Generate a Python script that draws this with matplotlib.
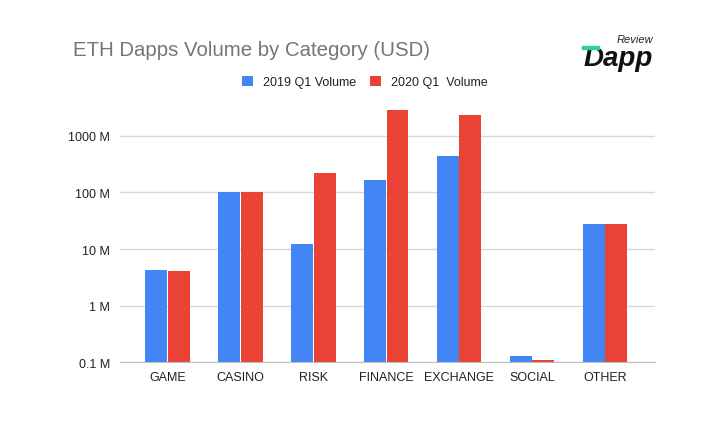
import matplotlib
matplotlib.use("Agg")
import matplotlib.pyplot as plt
import matplotlib.patches as patches
import numpy as np

plt.rcParams['font.family'] = ['Liberation Sans', 'DejaVu Sans']

# data (millions of USD)
categories = ['GAME', 'CASINO', 'RISK', 'FINANCE', 'EXCHANGE', 'SOCIAL', 'OTHER']
vol_2019 = [4.3, 102, 12.3, 167, 442, 0.128, 27.8]
vol_2020 = [4.05, 101, 218, 2870, 2340, 0.11, 27.8]
series_names = ['2019 Q1 Volume', '2020 Q1  Volume']
y_ticks = [0.1, 1, 10, 100, 1000]
y_tick_labels = ['0.1 M', '1 M', '10 M', '100 M', '1000 M']

blue = '#4285F4'
red = '#EA4335'

fig = plt.figure(figsize=(7.1, 4.27), dpi=100)
ax = fig.add_axes([120 / 710, 1 - 363.3 / 427, 535 / 710, 266 / 427])

x = np.arange(len(categories))
w = 0.30
ax.bar(x - 0.155, vol_2019, w, color=blue, label=series_names[0], zorder=3)
ax.bar(x + 0.155, vol_2020, w, color=red, label=series_names[1], zorder=3)

ax.set_yscale('log')
ax.set_ylim(0.1, 5000)
ax.set_xlim(-0.652, 6.687)
ax.set_yticks(y_ticks)
ax.set_yticklabels(y_tick_labels)
ax.minorticks_off()
ax.set_xticks(x)
ax.set_xticklabels(categories)
ax.tick_params(axis='both', length=0, labelsize=9, colors='#222222')
ax.tick_params(axis='y', pad=7)
ax.tick_params(axis='x', pad=6)
ax.grid(axis='y', color='#d9d9d9', linewidth=1, zorder=0)
for s in ['top', 'right', 'left']:
    ax.spines[s].set_visible(False)
ax.spines['bottom'].set_color('#c0c0c0')
ax.spines['bottom'].set_zorder(4)

fig.text(73 / 710, 1 - 50 / 427, 'ETH Dapps Volume by Category (USD)', fontsize=14.7,
         color='#757575', va='center', ha='left')

fig.legend(loc='center', bbox_to_anchor=(365 / 710, 1 - 83 / 427), ncol=2, frameon=False,
           fontsize=9, handlelength=0.9, handleheight=0.9, columnspacing=1.1,
           handletextpad=0.8, labelcolor='#222222')

# logo
fig.text(617 / 710, 1 - 43 / 427, 'Review', fontsize=8, style='italic', color='#222222',
         va='baseline', ha='left')
fig.text(584 / 710, 1 - 66 / 427, 'Dapp', fontsize=20, style='italic', weight='bold',
         color='#111111', va='baseline', ha='left')
fig.patches.append(patches.Rectangle((582 / 710, 1 - 50 / 427), 17 / 710, 3 / 427,
                                     transform=fig.transFigure, color='#2ED38A', zorder=5))

fig.savefig('out.png', dpi=100)
